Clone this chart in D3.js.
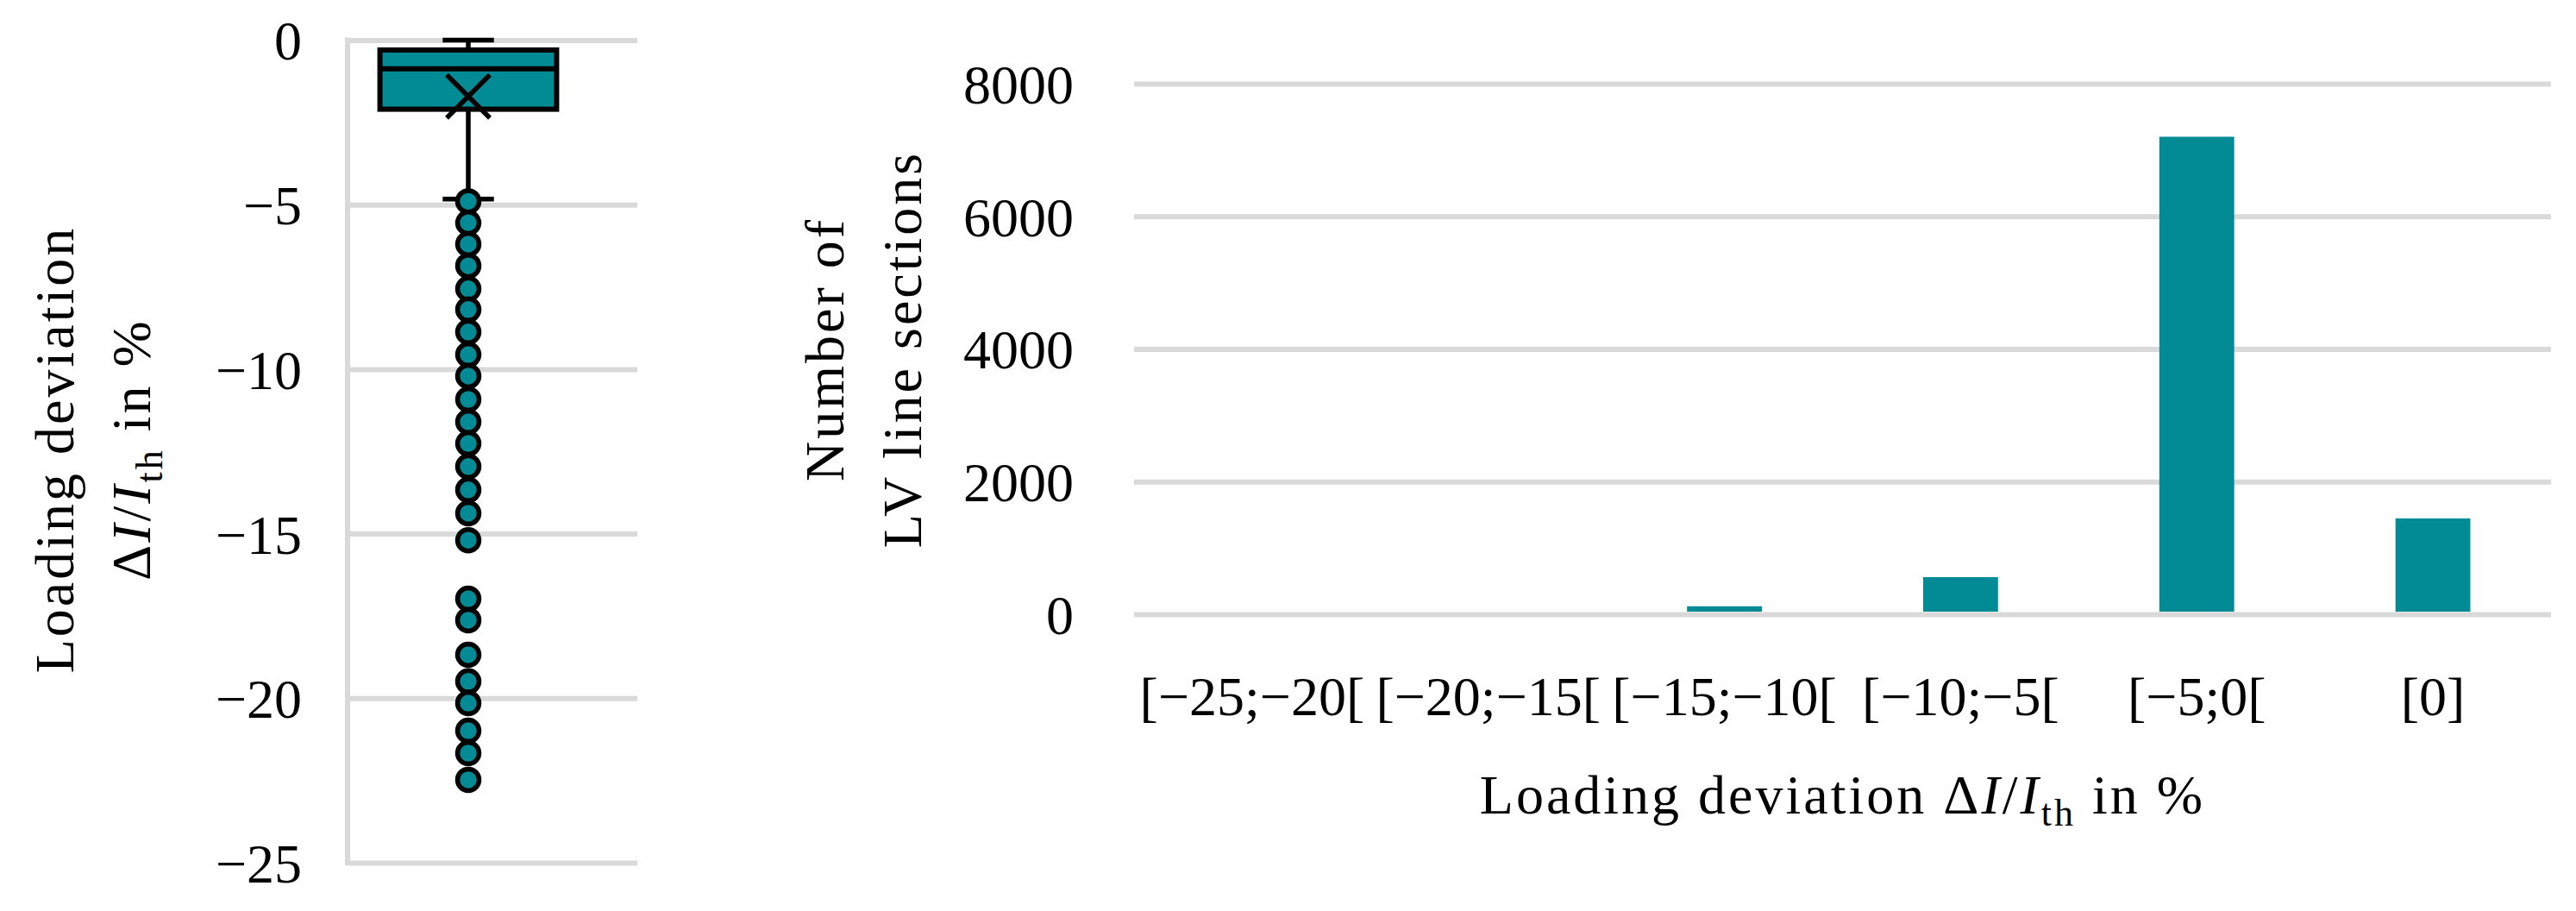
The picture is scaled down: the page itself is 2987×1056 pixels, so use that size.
<!DOCTYPE html>
<html>
<head>
<meta charset="utf-8">
<script src="https://cdn.jsdelivr.net/npm/d3@7"></script>
<style>
  body { margin: 0; background: #fff; }
  text { font-family: "Liberation Serif", "DejaVu Serif", serif; fill: #000; }
  .title { letter-spacing: 3px; }
</style>
</head>
<body>
<svg id="chart" width="2987" height="1056"></svg>
<script>
// box plot (loading deviation in %)
const boxCategory = ["all"];
const boxQuartiles = [-2.1, -0.87, -0.3]; // q1, median, q3
const boxWhiskers = [-4.83, 0];
const boxMean = -1.71;
const boxOutliers = [
  -4.9, -5.55, -6.2, -6.86, -7.56, -8.19, -8.87, -9.56, -10.21, -10.92,
  -11.6, -12.26, -12.96, -13.67, -14.38, -15.2, -16.98, -17.63, -18.68,
  -19.49, -20.15, -20.99, -21.67, -22.48,
];
const boxTicks = [0, -5, -10, -15, -20, -25];

// histogram (number of LV line sections)
const categories = ["[−25;−20[", "[−20;−15[", "[−15;−10[", "[−10;−5[", "[−5;0[", "[0]"];
const counts = [0, 0, 120, 560, 7200, 1445];
const countTicks = [0, 2000, 4000, 6000, 8000];

const teal = "#028b94";
const grid = "#d9d9d9";
const fs = 64;

const svg = d3.select("#chart");

// ---------- left: box plot ----------
const left = { x0: 403, x1: 739, y0: 46.5, y1: 1000 };

const yBox = d3.scaleLinear().domain([-25, 0]).range([left.y1, left.y0]);
const xBox = d3.scaleBand().domain(boxCategory).range([left.x0, 683]).padding(0.155);

const gl = svg.append("g");

gl.append("g")
  .attr("transform", `translate(${left.x0},0)`)
  .call(d3.axisLeft(yBox).tickValues(boxTicks).tickSize(-(left.x1 - left.x0))
    .tickFormat((d) => d3.format("")(d).replace("-", "−")))
  .call((g) => g.select(".domain").remove())
  .call((g) => g.selectAll(".tick line").attr("stroke", grid).attr("stroke-width", 6))
  .call((g) => g.selectAll(".tick text").attr("x", -53).attr("dy", "0.35em")
    .style("font-size", fs + "px").style("font-family", "Liberation Serif"));

gl.append("line")
  .attr("x1", left.x0).attr("x2", left.x0)
  .attr("y1", yBox(0) - 3).attr("y2", yBox(-25) + 3)
  .attr("stroke", grid).attr("stroke-width", 6);

const cx = xBox("all") + xBox.bandwidth() / 2;
const capW = xBox.bandwidth() * 0.29;

// whiskers
gl.append("line")
  .attr("x1", cx).attr("x2", cx)
  .attr("y1", yBox(boxWhiskers[0])).attr("y2", yBox(boxWhiskers[1]))
  .attr("stroke", "#000").attr("stroke-width", 5.5);
gl.selectAll(".cap").data(boxWhiskers).enter().append("line")
  .attr("x1", cx - capW / 2).attr("x2", cx + capW / 2)
  .attr("y1", (d) => yBox(d)).attr("y2", (d) => yBox(d))
  .attr("stroke", "#000").attr("stroke-width", 5.5);

// box
gl.append("rect")
  .attr("x", xBox("all")).attr("width", xBox.bandwidth())
  .attr("y", yBox(boxQuartiles[2])).attr("height", yBox(boxQuartiles[0]) - yBox(boxQuartiles[2]))
  .attr("fill", teal).attr("stroke", "#000").attr("stroke-width", 6);
gl.append("line")
  .attr("x1", xBox("all")).attr("x2", xBox("all") + xBox.bandwidth())
  .attr("y1", yBox(boxQuartiles[1])).attr("y2", yBox(boxQuartiles[1]))
  .attr("stroke", "#000").attr("stroke-width", 6);

// mean marker
const my = yBox(boxMean), ms = 25;
gl.append("path")
  .attr("d", `M${cx - ms},${my - ms}L${cx + ms},${my + ms}M${cx - ms},${my + ms}L${cx + ms},${my - ms}`)
  .attr("stroke", "#000").attr("stroke-width", 5.5).attr("fill", "none");

// outliers
gl.selectAll(".out").data(boxOutliers).enter().append("circle")
  .attr("cx", cx).attr("cy", (d) => yBox(d)).attr("r", 12.5)
  .attr("fill", teal).attr("stroke", "#000").attr("stroke-width", 5.5);

// left y title
const lt = gl.append("g").attr("transform", "translate(0,521) rotate(-90)");
lt.append("text").attr("class", "title").attr("y", 85).attr("text-anchor", "middle").style("font-size", fs + "px")
  .text("Loading deviation");
const lt2 = lt.append("text").attr("class", "title").attr("y", 174).attr("text-anchor", "middle").style("font-size", fs + "px");
lt2.append("tspan").text("Δ");
lt2.append("tspan").style("font-style", "italic").text("I");
lt2.append("tspan").text("/");
lt2.append("tspan").style("font-style", "italic").text("I");
lt2.append("tspan").attr("dy", 14).style("font-size", "44px").text("th");
lt2.append("tspan").attr("dy", -14).text(" in %");

// ---------- right: histogram ----------
const right = { x0: 1315, x1: 2958, y0: 97, y1: 712 };

const x = d3.scaleBand().domain(categories).range([right.x0, right.x1]).paddingInner(0.683).paddingOuter(0.3415);
const y = d3.scaleLinear().domain([0, 8000]).range([right.y1, right.y0]);

const gr = svg.append("g");

gr.append("g")
  .attr("transform", `translate(${right.x0},0)`)
  .call(d3.axisLeft(y).tickValues(countTicks).tickSize(-(right.x1 - right.x0)).tickFormat(d3.format("d")))
  .call((g) => g.select(".domain").remove())
  .call((g) => g.selectAll(".tick line").attr("stroke", grid).attr("stroke-width", 6))
  .call((g) => g.selectAll(".tick text").attr("x", -70).attr("dy", "0.35em")
    .style("font-size", fs + "px").style("font-family", "Liberation Serif"));

gr.selectAll(".bar").data(counts).enter().append("rect")
  .attr("x", (d, i) => x(categories[i]))
  .attr("width", x.bandwidth())
  .attr("y", (d) => y(d))
  .attr("height", (d) => Math.max(0, y(0) - y(d) - 3))
  .attr("fill", teal);

gr.append("g")
  .attr("transform", `translate(0,${right.y1})`)
  .call(d3.axisBottom(x).tickSize(0))
  .call((g) => g.select(".domain").remove())
  .call((g) => g.selectAll(".tick text").attr("y", 117).attr("dy", 0)
    .style("font-size", fs + "px").style("font-family", "Liberation Serif"));

// x title
const xt = gr.append("text").attr("class", "title").attr("x", (right.x0 + right.x1) / 2).attr("y", 943)
  .attr("text-anchor", "middle").style("font-size", fs + "px");
xt.append("tspan").text("Loading deviation Δ");
xt.append("tspan").style("font-style", "italic").text("I");
xt.append("tspan").text("/");
xt.append("tspan").style("font-style", "italic").text("I");
xt.append("tspan").attr("dy", 14).style("font-size", "44px").text("th");
xt.append("tspan").attr("dy", -14).text(" in %");

// right y title
const rt = gr.append("g").attr("transform", "translate(0,405) rotate(-90)");
rt.append("text").attr("class", "title").attr("y", 978).attr("text-anchor", "middle").style("font-size", fs + "px").text("Number of");
rt.append("text").attr("class", "title").attr("y", 1068).attr("text-anchor", "middle").style("font-size", fs + "px").text("LV line sections");
</script>
</body>
</html>
